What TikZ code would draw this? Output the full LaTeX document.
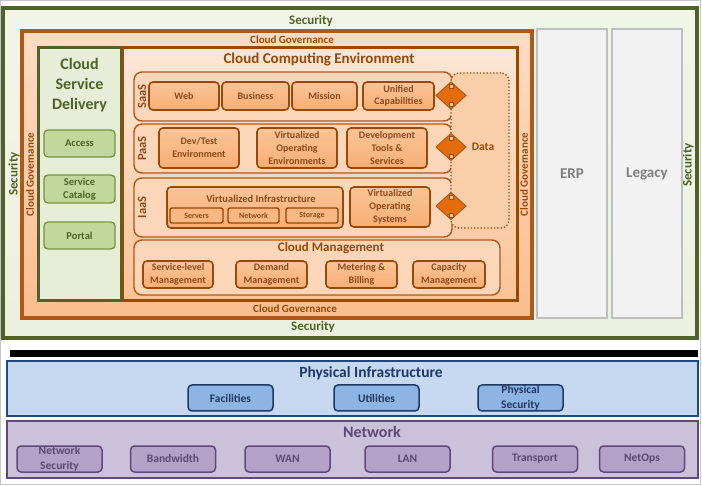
\documentclass[tikz,border=0pt]{standalone}
\usepackage{fontspec}
\setmainfont{Carlito}
\usetikzlibrary{shapes.geometric}
\definecolor{secgreen}{HTML}{4F6228}
\definecolor{secfill}{HTML}{EBF1DE}
\definecolor{govline}{HTML}{B0581A}
\definecolor{brown}{HTML}{984807}
\definecolor{btxt}{HTML}{8E4A1C}
\definecolor{gfill}{HTML}{C3D69B}
\definecolor{gline}{HTML}{77933C}
\definecolor{diafill}{HTML}{E46C0A}
\definecolor{grayline}{HTML}{BFBFBF}
\definecolor{grayfill}{HTML}{F2F2F2}
\definecolor{graytxt}{HTML}{7F7F7F}
\definecolor{bfill}{HTML}{C6D9F1}
\definecolor{bline}{HTML}{1F497D}
\definecolor{bbox}{HTML}{8DB4E2}
\definecolor{btext}{HTML}{1F3864}
\definecolor{pfill}{HTML}{CCC1DA}
\definecolor{pline}{HTML}{5F497A}
\definecolor{pbox}{HTML}{B3A2C7}
\definecolor{ptext}{HTML}{5A4A72}
\definecolor{govtop}{HTML}{FDDCC4}
\definecolor{govbot}{HTML}{F9BE8F}
\definecolor{csdfill}{HTML}{E6EED8}
\definecolor{ccetop}{HTML}{FDE7D6}
\definecolor{ccebot}{HTML}{F9C396}
\definecolor{rowfill}{HTML}{FCD6B8}
\definecolor{oboxtop}{HTML}{FAC497}
\definecolor{oboxbot}{HTML}{F7AE76}
\definecolor{sboxfill}{HTML}{F9B782}
\definecolor{datafill}{HTML}{FBCEAA}
\definecolor{dsqfill}{HTML}{F7C9A0}
\begin{document}
\begin{tikzpicture}[x=1pt,y=-1pt,
  every node/.style={inner sep=0pt, outer sep=0pt},
  secbox/.style={draw=secgreen, line width=4pt, top color=secfill!70!white, bottom color=secfill},
  sectxt/.style={text=secgreen, font=\fontsize{13}{14}\selectfont\bfseries},
  govbox/.style={draw=govline, line width=3.5pt, top color=govtop, bottom color=govbot},
  govtxt/.style={text=brown, font=\fontsize{11}{12}\selectfont\bfseries},
  csdbox/.style={draw=secgreen, line width=3pt, fill=csdfill},
  gbox/.style={draw=gline, line width=1.3pt, rounded corners=4pt, fill=gfill, text=secgreen, align=center, font=\fontsize{10.5}{13}\selectfont\bfseries},
  ccebox/.style={draw=brown, line width=3pt, top color=ccetop, bottom color=ccebot},
  rowbox/.style={draw=govline, line width=1.4pt, rounded corners=8pt, fill=rowfill},
  rowlbl/.style={rotate=90, text=btxt, font=\fontsize{12.5}{13}\selectfont\bfseries},
  obox/.style={draw=brown, line width=1.6pt, rounded corners=4pt, top color=oboxtop, bottom color=oboxbot, text=btxt, align=center, font=\fontsize{10}{13}\selectfont\bfseries},
  sbox/.style={draw=brown, line width=1.4pt, rounded corners=2pt, fill=sboxfill, text=btxt, font=\fontsize{8}{9}\selectfont\bfseries},
  databox/.style={draw=brown, dotted, line width=1.3pt, rounded corners=8pt, fill=datafill},
  dia/.style={diamond, draw=govline, line width=1pt, fill=diafill, minimum width=30pt, minimum height=27pt},
  dsq/.style={draw=brown, line width=0.6pt, fill=dsqfill, minimum width=4pt, minimum height=4pt},
  erpbox/.style={draw=grayline, line width=1.8pt, fill=grayfill, text=graytxt, font=\fontsize{15}{17}\selectfont\bfseries},
  titletxt/.style={text=brown, font=\fontsize{15}{17}\selectfont\bfseries},
  physbox/.style={draw=bline, line width=2pt, fill=bfill},
  pbx/.style={draw=btext, line width=1.5pt, rounded corners=4pt, fill=bbox, text=btext, align=center, font=\fontsize{11.5}{14.5}\selectfont\bfseries, minimum width=85pt, minimum height=26pt},
  netbox/.style={draw=pline, line width=2pt, fill=pfill},
  nbx/.style={draw=pline, line width=1.5pt, rounded corners=4pt, fill=pbox, text=ptext, align=center, font=\fontsize{11.5}{14.5}\selectfont\bfseries, minimum width=85pt, minimum height=26pt}
]
\useasboundingbox (0,0) rectangle (702,486);
\fill[white] (0,0) rectangle (702,486);
\draw[gray!45, line width=1pt] (0.5,1) rectangle (700.5,484);

% Security
\node[secbox, minimum width=694pt, minimum height=330pt] (sec) at (350,173) {};
\node[sectxt] (sectop) at (311,21) {Security};
\node[sectxt] (secbot) at (313,327) {Security};
\node[sectxt, rotate=90] (secl) at (14,174) {Security};
\node[sectxt, rotate=90] (secr) at (688,165) {Security};

% ERP / Legacy
\node[erpbox, minimum width=70pt, minimum height=289pt] (erp) at (572,173.5) {ERP};
\node[erpbox, minimum width=70pt, minimum height=289pt] (legacy) at (647,173.5) {Legacy};

% Governance
\node[govbox, minimum width=510pt, minimum height=287pt] (gov) at (277,174.5) {};
\node[govtxt] (govtopt) at (292,40) {Cloud Governance};
\node[govtxt] (govbott) at (295,309) {Cloud Governance};
\node[govtxt, rotate=90] (govl) at (30,174.5) {Cloud Governance};
\node[govtxt, rotate=90] (govr) at (524,174.5) {Cloud Governance};

% Cloud Service Delivery
\node[csdbox, minimum width=83pt, minimum height=253pt] (csd) at (79.5,174.5) {};
\node[text=secgreen, align=center, font=\fontsize{16}{20}\selectfont\bfseries] (csdt) at (79.5,85) {Cloud\\Service\\Delivery};
\node[gbox, minimum width=71pt, minimum height=27pt] (access) at (79.5,143.5) {Access};
\node[gbox, minimum width=71pt, minimum height=28pt] (catalog) at (79.5,189) {Service\\Catalog};
\node[gbox, minimum width=71pt, minimum height=27pt] (portal) at (79.5,235.5) {Portal};

% Cloud Computing Environment
\node[ccebox, minimum width=395pt, minimum height=253pt] (cce) at (319.5,174.5) {};
\node[titletxt] (ccet) at (319,60) {Cloud Computing Environment};

% rows
\node[rowbox, minimum width=318pt, minimum height=49pt] (saas) at (293,96.5) {};
\node[rowbox, minimum width=318pt, minimum height=49pt] (paas) at (293,148.5) {};
\node[rowbox, minimum width=318pt, minimum height=59pt] (iaas) at (293,207.5) {};
\node[rowlbl] (saasl) at (142,96.5) {SaaS};
\node[rowlbl] (paasl) at (142,148.5) {PaaS};
\node[rowlbl] (iaasl) at (142,207.5) {IaaS};

% data
\node[databox, minimum width=58pt, minimum height=155pt] (data) at (480,150.5) {};
\node[text=brown, font=\fontsize{11.5}{13}\selectfont\bfseries] (datat) at (483,147) {Data};

% SaaS boxes
\node[obox, minimum width=70pt, minimum height=28pt] (web) at (184,96) {Web};
\node[obox, minimum width=67pt, minimum height=28pt] (business) at (255.5,96) {Business};
\node[obox, minimum width=65pt, minimum height=28pt] (mission) at (324.5,96) {Mission};
\node[obox, minimum width=71pt, minimum height=28pt, font=\fontsize{10}{12.5}\selectfont\bfseries] (unified) at (398.5,96) {Unified\\Capabilities};

% PaaS boxes
\node[obox, minimum width=80pt, minimum height=40pt] (devtest) at (199,148) {Dev/Test\\Environment};
\node[obox, minimum width=80pt, minimum height=40pt] (voe) at (297,148) {Virtualized\\Operating\\Environments};
\node[obox, minimum width=80pt, minimum height=40pt] (dts) at (387,148) {Development\\Tools \&\\Services};

% IaaS boxes
\node[obox, minimum width=176pt, minimum height=41pt] (vi) at (255,207.5) {};
\node[text=btxt, font=\fontsize{10.5}{12}\selectfont\bfseries] (vit) at (261,199) {Virtualized Infrastructure};
\node[sbox, minimum width=53pt, minimum height=15pt] (servers) at (196.5,215.5) {Servers};
\node[sbox, minimum width=51pt, minimum height=15pt] (network) at (253.5,215.5) {Network};
\node[sbox, minimum width=52pt, minimum height=15pt] (storage) at (312,215.5) {Storage};
\node[obox, minimum width=80pt, minimum height=40pt] (vos) at (390,207) {Virtualized\\Operating\\Systems};

% diamonds
\node[dia] (d1) at (451,95.5) {};
\node[dia] (d2) at (451,147) {};
\node[dia] (d3) at (451,206) {};
\foreach \d in {d1,d2,d3}{
  \node[dsq] (\d t) at ([yshift=-9pt]\d.center) {};
  \node[dsq] (\d b) at ([yshift=9pt]\d.center) {};
}

% Cloud Management
\node[rowbox, minimum width=366pt, minimum height=55pt] (cm) at (317,267.5) {};
\node[text=brown, font=\fontsize{13}{15}\selectfont\bfseries] (cmt) at (331,248) {Cloud Management};
\node[obox, minimum width=70pt, minimum height=27pt] (slm) at (178,274.5) {Service-level\\Management};
\node[obox, minimum width=71pt, minimum height=27pt] (dm) at (271.5,274.5) {Demand\\Management};
\node[obox, minimum width=71pt, minimum height=27pt] (mb) at (361.5,274.5) {Metering \&\\Billing};
\node[obox, minimum width=72pt, minimum height=27pt] (capm) at (449,274.5) {Capacity\\Management};

% separator bar
\node[fill=black, minimum width=688pt, minimum height=7pt] (bar) at (354,353.5) {};

% Physical Infrastructure
\node[physbox, minimum width=691pt, minimum height=55pt] (phys) at (352.5,388.5) {};
\node[text=btext, font=\fontsize{15.5}{17}\selectfont\bfseries] (physt) at (371,373) {Physical Infrastructure};
\node[pbx] (facilities) at (230.5,398) {Facilities};
\node[pbx] (utilities) at (376.5,398) {Utilities};
\node[pbx] (physsec) at (520.5,398) {Physical\\Security};

% Network
\node[netbox, minimum width=691pt, minimum height=57pt] (net) at (352.5,449.5) {};
\node[text=ptext, font=\fontsize{16}{18}\selectfont\bfseries] (nett) at (372,432) {Network};
\node[nbx] (netsec) at (59.5,459) {Network\\Security};
\node[nbx] (bandwidth) at (173,459) {Bandwidth};
\node[nbx] (wan) at (287.5,459) {WAN};
\node[nbx] (lan) at (407.5,459) {LAN};
\node[nbx] (transport) at (535,459) {Transport};
\node[nbx] (netops) at (642,459) {NetOps};
\end{tikzpicture}
\end{document}
